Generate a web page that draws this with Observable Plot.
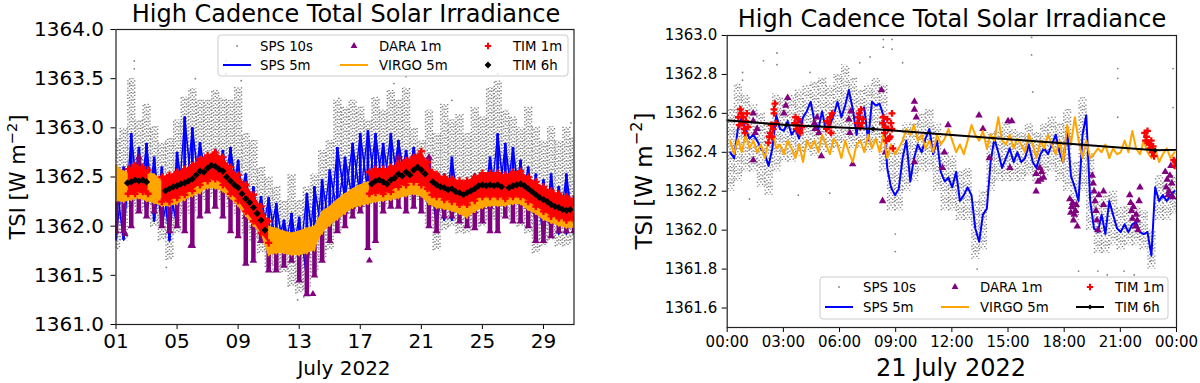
<!DOCTYPE html>
<html><head><meta charset="utf-8">
<script src="https://cdn.jsdelivr.net/npm/d3@7"></script>
<script src="https://cdn.jsdelivr.net/npm/@observablehq/plot@0.6"></script>
<style>
html,body{margin:0;padding:0;background:#fff;}
#wrap{position:relative;width:1200px;height:383px;overflow:hidden;font-family:"DejaVu Sans",sans-serif;}
#wrap svg{position:absolute;top:0;}
</style></head><body><div id="wrap"></div>
<script>
// ================= LEFT PANEL DATA (July 2022, day of month) =================
const monthDays = [1,1.5,2,2.5,3,3.5,4,4.5,5,5.5,6,6.5,7,7.5,8,8.5,9,9.5,10,10.5,11,11.5,12,12.5,13,13.5,14,14.5,15,15.5,16,16.5,17,17.5,18,18.5,19,19.5,20,20.5,21,21.5,22,22.5,23,23.5,24,24.5,25,25.5,26,26.5,27,27.5,28,28.5,29,29.5,30,30.5,31];
const sps10Lo = [1361.75,1361.85,1362.19,1362.12,1362.19,1361.99,1361.85,1361.65,1361.92,1362.12,
1362.12,1362.26,1362.26,1362.33,1362.26,1362.19,1362.12,1361.92,1361.85,1361.72,
1361.58,1361.52,1361.52,1361.38,1361.31,1361.35,1361.52,1361.65,1361.75,1361.92,
1362.09,1362.12,1362.19,1362.19,1362.26,1362.19,1362.26,1362.26,1362.33,1362.26,
1362.26,1362.02,1361.75,1361.95,1361.99,1361.92,1361.92,1361.99,1361.99,1362.06,
1362.06,1362.12,1362.06,1361.99,1361.92,1361.72,1361.79,1361.85,1361.79,1361.79,1361.85];
const sps10Hi = [1362.90,1363.00,1363.50,1363.08,1363.24,1363.01,1362.85,1362.89,1363.08,1363.31,
1363.40,1363.28,1363.28,1363.38,1363.30,1363.28,1363.41,1362.94,1362.87,1362.60,
1362.50,1362.40,1362.26,1362.53,1362.26,1362.40,1362.53,1362.77,1362.87,1363.28,
1363.21,1363.28,1363.21,1363.08,1363.31,1363.18,1363.38,1363.28,1363.41,1363.00,
1362.87,1363.18,1362.94,1363.24,1363.08,1363.14,1362.94,1363.21,1363.11,1363.41,
1363.48,1363.18,1363.11,1363.00,1363.21,1363.01,1362.87,1363.01,1362.87,1363.01,1362.90];
const sps10OutDays = [2.2,2.2,1.9,8.2,8.2,6.2,9.2,12.9,13.3,20.0,26.0,19.2,15.6,30.8,4.3,23.0];
const sps10OutVals = [1363.68,1363.60,1363.45,1363.68,1363.55,1363.50,1363.48,1361.25,1361.28,1363.52,1363.55,1363.45,1363.30,1363.05,1361.58,1363.28];
const sps5Lo = [1361.86,1361.86,1362.19,1362.15,1362.09,1362.05,1361.99,1361.85,1362.00,1362.19,
1362.30,1362.33,1362.40,1362.35,1362.33,1362.25,1362.26,1361.99,1361.92,1361.85,
1361.85,1361.79,1361.72,1361.68,1361.58,1361.45,1361.72,1361.92,1361.96,1362.13,
1362.26,1362.26,1362.29,1362.33,1362.36,1362.33,1362.33,1362.36,1362.40,1362.40,
1362.36,1362.13,1361.99,1362.06,1362.06,1362.09,1362.06,1362.13,1362.13,1362.16,
1362.13,1362.19,1362.19,1362.19,1362.06,1361.99,1361.85,1361.92,1361.92,1361.92,1361.92];
const sps5Hi = [1362.45,1362.60,1362.94,1362.80,1362.84,1362.70,1362.60,1362.40,1362.75,1363.11,
1363.00,1362.85,1362.70,1362.78,1362.77,1362.80,1362.67,1362.53,1362.40,1362.30,
1362.29,1362.23,1362.06,1362.13,1362.09,1362.33,1362.40,1362.47,1362.57,1362.80,
1362.70,1362.84,1362.94,1362.97,1362.94,1362.84,1362.94,1362.87,1362.77,1362.80,
1362.70,1362.60,1362.47,1362.53,1362.70,1362.40,1362.43,1362.53,1362.50,1362.70,
1362.94,1362.84,1362.80,1362.67,1362.60,1362.53,1362.47,1362.53,1362.40,1362.53,1362.30];
const virgoLo = [1362.25,1362.24,1362.26,1362.28,1362.25,1362.23,1362.20,1362.20,1362.22,1362.26,
1362.30,1362.33,1362.38,1362.38,1362.35,1362.28,1362.20,1362.10,1362.00,1361.92,
1361.70,1361.72,1361.72,1361.70,1361.70,1361.72,1361.75,1361.92,1362.00,1362.06,
1362.12,1362.18,1362.20,1362.22,1362.24,1362.25,1362.26,1362.28,1362.30,1362.32,
1362.30,1362.22,1362.18,1362.17,1362.15,1362.12,1362.08,1362.14,1362.18,1362.20,
1362.20,1362.20,1362.22,1362.22,1362.16,1362.12,1362.06,1362.03,1362.00,1361.98,1361.98];
const virgoHi = [1362.62,1362.56,1362.55,1362.55,1362.55,1362.53,1362.48,1362.45,1362.48,1362.52,
1362.55,1362.60,1362.62,1362.65,1362.60,1362.55,1362.45,1362.35,1362.25,1362.15,
1362.00,1361.98,1361.95,1361.93,1361.95,1361.98,1362.00,1362.15,1362.20,1362.27,
1362.33,1362.38,1362.42,1362.45,1362.46,1362.47,1362.50,1362.52,1362.55,1362.57,
1362.56,1362.48,1362.45,1362.42,1362.40,1362.38,1362.36,1362.40,1362.42,1362.44,
1362.44,1362.43,1362.45,1362.46,1362.42,1362.38,1362.32,1362.28,1362.25,1362.22,1362.20];
const daraLo = [1361.95,1361.95,1362.00,1362.15,1362.10,1362.15,1362.00,1361.95,1362.00,1361.95,
1361.80,1362.10,1362.15,1362.20,1362.10,1361.95,1361.90,1361.62,1361.65,1361.85,
1361.55,1361.55,1361.60,1361.65,1361.45,1361.31,1361.50,1361.65,1361.85,1361.95,
1362.00,1362.10,1362.15,1361.78,1361.85,1362.15,1362.20,1362.20,1362.15,1362.20,
1362.15,1362.00,1361.95,1362.10,1362.10,1362.05,1362.00,1361.98,1362.05,1361.95,
1361.95,1362.10,1362.05,1362.05,1362.00,1361.85,1361.85,1361.90,1361.95,1361.95,1361.95];
const daraHi = [1362.25,1362.30,1362.60,1362.70,1362.40,1362.30,1362.30,1362.25,1362.30,1362.30,
1362.35,1362.40,1362.50,1362.55,1362.45,1362.30,1362.25,1362.10,1362.00,1362.00,
1361.85,1361.80,1361.75,1361.80,1361.75,1361.80,1361.90,1362.05,1362.05,1362.10,
1362.15,1362.20,1362.22,1362.30,1362.35,1362.30,1362.40,1362.70,1362.40,1362.45,
1362.50,1362.70,1362.30,1362.30,1362.25,1362.20,1362.15,1362.15,1362.20,1362.20,
1362.25,1362.25,1362.25,1362.25,1362.20,1362.15,1362.10,1362.05,1362.10,1362.10,1362.05];
const daraOutDays = [1.6,17.6,13.9,5.9];
const daraOutVals = [1361.92,1361.65,1361.31,1361.80];
const tim1mDays = [1.8,2.25,2.75,3.1,3.5,4,4.5,5,5.5,6,6.5,7,7.5,8,8.5,9,9.5,10,10.5,11,14,17.6,18,18.5,19,19.5,20,20.5,21,21.4,21.7,22,22.5,23,23.5,24,24.5,25,25.5,26,26.5,27,27.5,28,28.5,29,29.5,30,30.5,31];
const tim1mLo = [1362.33,1362.33,1362.35,1362.33,null,1362.25,1362.25,1362.29,1362.32,1362.36,1362.42,1362.46,1362.48,1362.42,1362.33,1362.26,1362.15,1362.05,1361.93,1361.83,null,1362.33,1362.34,1362.33,1362.35,1362.40,1362.42,1362.45,1362.42,1362.38,1362.32,1362.30,1362.27,1362.25,1362.22,1362.22,1362.26,1362.30,1362.30,1362.30,1362.28,1362.30,1362.30,1362.25,1362.20,1362.15,1362.10,1362.08,1362.06,1362.06];
const tim1mHi = [1362.58,1362.62,1362.60,1362.57,null,1362.50,1362.52,1362.55,1362.58,1362.62,1362.68,1362.72,1362.75,1362.70,1362.60,1362.52,1362.42,1362.32,1362.20,1362.05,null,1362.55,1362.58,1362.58,1362.60,1362.64,1362.67,1362.70,1362.76,1362.65,1362.55,1362.53,1362.50,1362.48,1362.46,1362.46,1362.50,1362.54,1362.54,1362.54,1362.52,1362.55,1362.56,1362.50,1362.45,1362.40,1362.36,1362.33,1362.30,1362.28];
const tim6hDays = [1.75,2,2.25,2.5,2.75,3,4.25,4.5,4.75,5,5.25,5.5,5.75,6,6.25,6.5,6.75,7,7.25,7.5,7.75,8,8.25,8.5,8.75,9,9.25,9.5,9.75,10,10.25,10.5,10.75,17.75,18,18.25,18.5,18.75,19,19.25,19.5,19.75,20,20.25,20.5,20.75,21,21.25,21.75,22,22.25,22.5,22.75,23,23.25,23.5,23.75,24,24.25,24.5,24.75,25,25.25,25.5,25.75,26,26.25,26.75,27,27.25,27.5,27.75,28,28.25,28.5,28.75,29,29.25,29.5,29.75,30,30.25,30.5,30.75];
const tim6hVals = [1362.44,1362.45,1362.47,1362.46,1362.47,1362.45,1362.36,1362.38,1362.40,1362.41,1362.43,1362.44,1362.46,1362.48,1362.52,1362.56,1362.55,1362.59,1362.62,1362.61,1362.58,1362.56,1362.50,1362.46,1362.42,1362.39,1362.33,1362.28,1362.24,1362.19,1362.13,1362.06,1361.96,1362.43,1362.46,1362.47,1362.45,1362.43,1362.47,1362.49,1362.53,1362.51,1362.55,1362.52,1362.57,1362.60,1362.57,1362.53,1362.45,1362.42,1362.40,1362.39,1362.37,1362.38,1362.35,1362.34,1362.32,1362.34,1362.36,1362.38,1362.41,1362.42,1362.41,1362.42,1362.41,1362.42,1362.40,1362.39,1362.41,1362.42,1362.43,1362.41,1362.38,1362.35,1362.32,1362.29,1362.27,1362.25,1362.22,1362.20,1362.19,1362.17,1362.16,1362.17];
const leftXTicks = [1,5,9,13,17,21,25,29];
const leftYTicks = [1361.0,1361.5,1362.0,1362.5,1363.0,1363.5,1364.0];

// ================= RIGHT PANEL DATA (21 July 2022, hours) =================
const hours5m = [0.16,0.37,0.57,0.78,0.98,1.19,1.39,1.60,1.80,2.01,2.21,2.41,2.62,2.82,3.03,3.23,3.44,3.64,3.84,4.05,4.25,4.46,4.66,4.87,5.07,5.28,5.48,5.69,5.89,6.10,6.30,6.50,6.71,6.91,7.12,7.32,7.53,7.73,7.94,8.14,8.34,8.55,8.75,8.96,9.16,9.37,9.57,9.78,9.98,10.18,10.39,10.59,10.80,11.00,11.21,11.41,11.62,11.82,12.02,12.23,12.43,12.64,12.84,13.05,13.25,13.46,13.66,13.87,14.07,14.27,14.48,14.68,14.89,15.09,15.30,15.50,15.71,15.91,16.11,16.32,16.52,16.73,16.93,17.14,17.34,17.55,17.75,17.95,18.16,18.36,18.57,18.77,18.98,19.18,19.39,19.59,19.80,20.00,20.20,20.41,20.61,20.82,21.02,21.23,21.43,21.64,21.84,22.05,22.25,22.45,22.66,22.86,23.07,23.27,23.48,23.68,23.89];
const sps5Day = [1362.40,1362.37,1362.52,1362.58,1362.52,1362.47,1362.49,1362.46,1362.42,1362.39,
1362.33,1362.42,1362.59,1362.52,1362.51,1362.56,1362.49,1362.52,1362.47,1362.58,
1362.61,1362.66,1362.56,1362.52,1362.61,1362.51,1362.54,1362.59,1362.66,1362.58,
1362.64,1362.72,1362.62,1362.49,1362.61,1362.63,1362.46,1362.66,1362.64,1362.65,
1362.59,1362.32,1362.22,1362.18,1362.21,1362.37,1362.46,1362.25,1362.37,1362.44,
1362.40,1362.47,1362.52,1362.39,1362.46,1362.30,1362.25,1362.27,1362.22,1362.30,
1362.15,1362.18,1362.22,1362.18,1362.01,1361.94,1362.08,1362.11,1362.35,1362.47,
1362.40,1362.32,1362.37,1362.42,1362.35,1362.40,1362.35,1362.37,1362.44,1362.35,
1362.32,1362.39,1362.42,1362.39,1362.44,1362.49,1362.40,1362.35,1362.52,1362.28,
1362.22,1362.15,1362.49,1362.59,1362.15,1362.01,1361.99,1362.08,1361.98,1362.15,
1362.08,1362.01,1361.99,1362.03,1361.99,1362.03,1362.04,1361.99,1361.98,1361.99,
1361.87,1362.22,1362.15,1362.18,1362.15,1362.18,1362.20];
const virgoDay = [1362.46,1362.39,1362.47,1362.40,1362.49,1362.42,1362.46,1362.40,1362.44,1362.37,
1362.46,1362.51,1362.42,1362.44,1362.39,1362.46,1362.42,1362.37,1362.44,1362.35,
1362.46,1362.42,1362.46,1362.40,1362.49,1362.44,1362.39,1362.47,1362.44,1362.37,
1362.46,1362.40,1362.35,1362.44,1362.46,1362.40,1362.49,1362.42,1362.47,1362.40,
1362.49,1362.37,1362.44,1362.39,1362.42,1362.46,1362.52,1362.49,1362.54,1362.46,
1362.49,1362.42,1362.46,1362.40,1362.49,1362.44,1362.47,1362.52,1362.46,1362.40,
1362.44,1362.39,1362.46,1362.54,1362.49,1362.46,1362.51,1362.42,1362.49,1362.46,
1362.58,1362.46,1362.44,1362.49,1362.42,1362.47,1362.44,1362.40,1362.49,1362.44,
1362.37,1362.46,1362.42,1362.49,1362.44,1362.39,1362.46,1362.35,1362.54,1362.44,
1362.58,1362.46,1362.37,1362.46,1362.37,1362.39,1362.42,1362.40,1362.44,1362.37,
1362.42,1362.39,1362.40,1362.46,1362.40,1362.51,1362.42,1362.39,1362.46,1362.40,
1362.37,1362.42,1362.35,1362.39,1362.42,1362.37,1362.40];
const sps10Hours = [0.16,0.57,0.98,1.39,1.80,2.21,2.62,3.03,3.44,3.84,4.25,4.66,5.07,5.48,5.89,6.30,6.71,7.12,7.53,7.94,8.34,8.75,9.16,9.57,9.98,10.39,10.80,11.21,11.62,12.02,12.43,12.84,13.25,13.66,14.07,14.48,14.89,15.30,15.71,16.11,16.52,16.93,17.34,17.75,18.16,18.57,18.98,19.39,19.80,20.20,20.61,21.02,21.43,21.84,22.25,22.66,23.07,23.48,23.89];
const sps10DayLo = [1362.20,1362.25,1362.30,1362.30,1362.22,1362.18,1362.30,1362.35,1362.35,1362.38,
1362.40,1362.38,1362.40,1362.40,1362.42,1362.45,1362.42,1362.42,1362.40,1362.45,
1362.30,1362.10,1362.10,1362.20,1362.25,1362.30,1362.30,1362.20,1362.10,1362.10,
1362.05,1362.05,1361.85,1361.90,1362.20,1362.25,1362.25,1362.25,1362.25,1362.28,
1362.25,1362.28,1362.30,1362.25,1362.20,1362.05,1362.20,1362.00,1361.88,1361.88,
1361.92,1361.90,1361.92,1361.92,1361.90,1361.80,1362.05,1362.05,1362.08];
const sps10DayHi = [1362.62,1362.75,1362.70,1362.65,1362.60,1362.55,1362.70,1362.68,1362.70,1362.72,
1362.75,1362.76,1362.78,1362.74,1362.80,1362.85,1362.78,1362.72,1362.75,1362.78,
1362.75,1362.45,1362.42,1362.55,1362.55,1362.60,1362.62,1362.55,1362.40,1362.38,
1362.30,1362.32,1362.15,1362.20,1362.50,1362.52,1362.55,1362.52,1362.50,1362.55,
1362.50,1362.55,1362.58,1362.55,1362.62,1362.35,1362.68,1362.40,1362.15,1362.18,
1362.20,1362.12,1362.12,1362.12,1362.10,1362.00,1362.28,1362.25,1362.28];
const sps10OutHours = [0.82,0.82,1.94,2.66,2.66,4.42,7.08,7.63,8.34,8.34,8.81,8.81,9.37,8.98,8.98,16.26,16.26,16.32,20.86,20.86,20.86,23.82,23.82,13.35,19.8,20.3,21.2,21.74,22.6,18.77,5.48,1.19,3.8];
const sps10OutDayVals = [1362.81,1362.77,1362.87,1362.91,1362.85,1362.81,1362.86,1362.89,1362.98,1362.94,1362.98,1362.93,1362.86,1361.89,1361.98,1362.99,1362.90,1362.71,1362.83,1362.78,1362.58,1362.83,1362.63,1361.80,1361.79,1361.77,1361.79,1361.77,1361.84,1361.79,1362.19,1362.16,1362.18];
const daraHours = [1.39,1.39,1.6,1.39,3.23,3.13,3.03,3.84,4.66,4.9,4.8,5.03,6.6,6.5,6.7,8.24,8.3,8.45,10.0,10.0,10.1,10.0,11.8,11.6,11.5,13.45,13.66,14.0,15.0,15.2,15.1,16.5,16.6,16.8,16.9,16.5,18.3,18.4,18.5,18.6,18.7,19.5,19.6,19.7,19.8,19.85,20.1,20.1,21.5,21.6,21.8,21.9,22.0,22.05,23.4,23.5,23.6,23.8,23.7,
  1.5,4.7,6.55,16.7,16.75,18.35,18.45,18.55,18.65,19.55,19.65,19.75,21.55,21.65,21.7,21.85,21.95,23.45,23.55,23.65,23.75];
const daraVals = [1362.60,1362.56,1362.52,1362.36,1362.68,1362.64,1362.60,1362.56,1362.55,1362.50,1362.58,1362.38,1362.61,1362.57,1362.34,1362.72,1362.15,1362.40,1362.66,1362.62,1362.58,1362.35,1362.54,1362.40,1362.32,1362.59,1362.52,1362.37,1362.56,1362.56,1362.32,1362.29,1362.25,1362.30,1362.27,1362.20,1362.16,1362.12,1362.05,1362.10,1362.02,1362.28,1362.20,1362.10,1362.00,1362.18,1362.20,1362.13,1362.18,1362.10,1362.02,1362.05,1362.15,1362.22,1362.30,1362.26,1362.20,1362.17,1362.33,
  1362.50,1362.52,1362.50,1362.32,1362.26,1362.09,1362.14,1362.08,1362.13,1362.24,1362.15,1362.05,1362.14,1362.06,1362.12,1362.08,1362.00,1362.22,1362.18,1362.28,1362.24];
const tim1mHours = [0.6,0.7,0.8,0.9,1.0,1.1,2.2,2.3,2.4,2.5,2.55,2.6,3.6,3.7,3.8,3.9,4.0,5.3,5.4,5.5,5.6,6.95,7.05,7.15,7.25,8.3,8.4,8.5,8.6,8.7,8.8,8.85,22.3,22.4,22.5,22.6,22.7,22.8,23.85,23.95,
  0.65,0.75,0.85,0.95,1.05,2.25,2.35,2.45,2.5,3.65,3.75,3.85,5.35,5.45,5.55,7.0,7.1,7.2,8.35,8.45,8.55,8.65,8.75,8.8,22.35,22.45,22.55,22.65,22.75,23.9];
const tim1mVals = [1362.58,1362.62,1362.55,1362.52,1362.56,1362.53,1362.45,1362.50,1362.48,1362.60,1362.65,1362.55,1362.55,1362.52,1362.57,1362.50,1362.53,1362.52,1362.55,1362.58,1362.60,1362.55,1362.60,1362.62,1362.57,1362.55,1362.50,1362.46,1362.52,1362.48,1362.60,1362.42,1362.50,1362.48,1362.45,1362.42,1362.40,1362.38,1362.36,1362.35,
  1362.54,1362.60,1362.58,1362.50,1362.60,1362.48,1362.54,1362.52,1362.62,1362.58,1362.54,1362.51,1362.56,1362.53,1362.50,1362.58,1362.53,1362.55,1362.58,1362.53,1362.57,1362.47,1362.55,1362.52,1362.46,1362.51,1362.44,1362.46,1362.43,1362.33];
const tim6hHours = [-2.8,3.17,7.8,22.86,28.9];
const tim6hDayVals = [1362.585,1362.54,1362.52,1362.41,1362.425];
const rightXTicks = [0,3,6,9,12,15,18,21,24];
const rightYTicks = [1361.6,1361.8,1362.0,1362.2,1362.4,1362.6,1362.8,1363.0];

// ================= COLOURS =================
const C = {gray:"#808080", blue:"#0000ff", purple:"#800080", orange:"#ffa500", red:"#ff0000", black:"#000000"};

const wrap = document.getElementById("wrap");

// ---------- LEFT ----------
const L = monthDays.map((d,i)=>({d, gLo:sps10Lo[i], gHi:sps10Hi[i], bLo:sps5Lo[i], bHi:sps5Hi[i], oLo:virgoLo[i], oHi:virgoHi[i], pLo:daraLo[i], pHi:daraHi[i]}));
const zig = (lo, hi) => L.flatMap(r => [{d:r.d, v:r[lo]}, {d:r.d, v:r[hi]}]);
const gOut = sps10OutDays.map((d,i)=>({d, v:sps10OutVals[i]}));
const pOut = daraOutDays.map((d,i)=>({d, v:daraOutVals[i]}));
const T1 = tim1mDays.map((d,i)=>({d, lo:tim1mLo[i], hi:tim1mHi[i]}));
const T1pts = T1.filter(r=>r.lo!=null).flatMap(r=>[{d:r.d,v:r.lo},{d:r.d,v:r.hi}]);
const T6 = tim6hDays.map((d,i)=>({d, v:tim6hVals[i]}));

const grayRules = (data, xk, loK, hiK, offs, dash, w) => offs.map((dx,k) => Plot.ruleX(data, {x:xk, y1:loK, y2:hiK, stroke:C.gray, strokeWidth:w, strokeDasharray:dash, strokeDashoffset:(k*2.3)%5, dx, clip:true}));

const left = Plot.plot({
  width:600, height:383,
  marginLeft:115.5, marginRight:26.5, marginTop:29, marginBottom:59,
  style:{fontFamily:"DejaVu Sans", fontSize:"20px", color:"#000", background:"transparent", overflow:"visible"},
  x:{domain:[1,31], ticks:leftXTicks, tickFormat:d=>String(d).padStart(2,"0"), label:null, tickSize:5, tickPadding:4},
  y:{domain:[1361,1364], ticks:leftYTicks, tickFormat:d3.format(".1f"), label:null, tickSize:5, tickPadding:7},
  marks:[
    ...grayRules(L, "d", "gLo", "gHi", [-3.4,-1.7,0,1.7,3.4], "1.3,1.8,1.3,2.8", 1.45),
    Plot.dot(gOut, {x:"d", y:"v", r:0.9, fill:C.gray, clip:true}),
    Plot.line(zig("bLo","bHi"), {x:"d", y:"v", stroke:C.blue, strokeWidth:1.7, clip:true}),
    Plot.line(zig("bHi","bLo"), {x:"d", y:"v", stroke:C.blue, strokeWidth:1.4, clip:true}),
    Plot.ruleX(L, {x:"d", y1:"bLo", y2:"bHi", stroke:C.blue, strokeWidth:2.8, clip:true}),
    Plot.ruleX(L, {x:"d", y1:"pLo", y2:"pHi", stroke:C.purple, strokeWidth:4.5, clip:true}),
    Plot.dot(L, {x:"d", y:"pLo", symbol:"triangle", r:2.8, fill:C.purple, clip:true}),
    Plot.dot(L, {x:"d", y:"pHi", symbol:"triangle", r:2.8, fill:C.purple, clip:true}),
    Plot.dot(pOut, {x:"d", y:"v", symbol:"triangle", r:2.6, fill:C.purple, clip:true}),
    Plot.areaY(L, {x:"d", y1:"oLo", y2:"oHi", fill:C.orange, clip:true}),
    Plot.line(zig("oLo","oHi"), {x:"d", y:"v", stroke:C.orange, strokeWidth:1.4, clip:true}),
    Plot.line(zig("oHi","oLo"), {x:"d", y:"v", stroke:C.orange, strokeWidth:1.2, clip:true}),
    Plot.areaY(T1, {x:"d", y1:"lo", y2:"hi", fill:C.red, clip:true}),
    Plot.dot(T1pts, {x:"d", y:"v", symbol:"cross", r:3, fill:C.red, clip:true}),
    Plot.dot(T6, {x:"d", y:"v", symbol:"diamond2", r:3.2, fill:C.black, clip:true}),
    Plot.frame({stroke:"#222", strokeWidth:1.2})
  ]
});
left.style.left = "0px";
wrap.appendChild(left);

// ---------- RIGHT ----------
const R = hours5m.map((h,i)=>({h, b:sps5Day[i], o:virgoDay[i]}));
const G = sps10Hours.map((h,i)=>({h, lo:sps10DayLo[i], hi:sps10DayHi[i]}));
const GO = sps10OutHours.map((h,i)=>({h, v:sps10OutDayVals[i]}));
const D = daraHours.map((h,i)=>({h, v:daraVals[i]}));
const TR = tim1mHours.map((h,i)=>({h, v:tim1mVals[i]}));
const T6R = tim6hHours.map((h,i)=>({h, v:tim6hDayVals[i]}));

const right = Plot.plot({
  width:600, height:383,
  marginLeft:126.7, marginRight:24, marginTop:35, marginBottom:56,
  style:{fontFamily:"DejaVu Sans", fontSize:"15px", color:"#000", background:"transparent", overflow:"visible"},
  x:{domain:[0,24], ticks:rightXTicks, tickFormat:d=>String(d%24).padStart(2,"0")+":00", label:null, tickSize:5, tickPadding:4},
  y:{domain:[1361.5,1363.0], ticks:rightYTicks, tickFormat:d3.format(".1f"), label:null, tickSize:5, tickPadding:5},
  marks:[
    ...grayRules(G, "h", "lo", "hi", [-3.4,-1.7,0,1.7,3.4], "1.2,2.6,1.2,4.0,1.2,2.0", 1.45),
    Plot.dot(GO, {x:"h", y:"v", r:0.9, fill:C.gray, clip:true}),
    Plot.line(R, {x:"h", y:"b", stroke:C.blue, strokeWidth:2, clip:true}),
    Plot.dot(D, {x:"h", y:"v", symbol:"triangle", r:2.8, fill:C.purple, clip:true}),
    Plot.line(R, {x:"h", y:"o", stroke:C.orange, strokeWidth:2, clip:true}),
    Plot.dot(TR, {x:"h", y:"v", symbol:"cross", r:2.9, fill:C.red, clip:true}),
    Plot.line(T6R, {x:"h", y:"v", stroke:C.black, strokeWidth:2, clip:true}),
    Plot.dot(T6R, {x:"h", y:"v", symbol:"diamond2", r:2.4, fill:C.black, clip:true}),
    Plot.frame({stroke:"#222", strokeWidth:1.2})
  ]
});
right.style.left = "600px";
wrap.appendChild(right);

// ---------- OVERLAY: titles, axis labels, legends ----------
const ov = d3.select(wrap).append("svg").attr("width",1200).attr("height",383)
  .style("left","0px").style("pointer-events","none")
  .attr("font-family","DejaVu Sans, sans-serif").attr("fill","#000");

const title = "High Cadence Total Solar Irradiance";
ov.append("text").attr("x",346).attr("y",22).attr("text-anchor","middle").attr("font-size",24).text(title);
ov.append("text").attr("x",952).attr("y",27).attr("text-anchor","middle").attr("font-size",24).text(title);
ov.append("text").attr("x",344).attr("y",375).attr("text-anchor","middle").attr("font-size",20).text("July 2022");
ov.append("text").attr("x",951).attr("y",376).attr("text-anchor","middle").attr("font-size",24).text("21 July 2022");

function ylab(x, y, fs){
  const t = ov.append("text").attr("transform",`translate(${x},${y}) rotate(-90)`).attr("text-anchor","middle").attr("dominant-baseline","central").attr("font-size",fs);
  t.append("tspan").text("TSI [W m");
  t.append("tspan").attr("dy",-fs*0.33).attr("font-size",fs*0.7).text("\u22122");
  t.append("tspan").attr("dy",fs*0.33).text("]");
}
ylab(18, 177, 21);
ylab(644, 181, 23);

const sym = (type, size) => d3.symbol().type(type).size(size)();
function legend(box, rows, cols, sixth){
  const g = ov.append("g");
  g.append("rect").attr("x",box[0]).attr("y",box[1]).attr("width",box[2]).attr("height",box[3]).attr("rx",3)
    .attr("fill","#fff").attr("fill-opacity",0.8).attr("stroke","#cccccc").attr("stroke-width",1);
  const items = [
    {c:0,r:0,label:"SPS 10s", draw:(x,y)=>g.append("circle").attr("cx",x).attr("cy",y).attr("r",0.9).attr("fill",C.gray)},
    {c:0,r:1,label:"SPS 5m", draw:(x,y)=>g.append("line").attr("x1",x-14).attr("x2",x+14).attr("y1",y).attr("y2",y).attr("stroke",C.blue).attr("stroke-width",2)},
    {c:1,r:0,label:"DARA 1m", draw:(x,y)=>g.append("path").attr("d",sym(d3.symbolTriangle,20)).attr("transform",`translate(${x},${y})`).attr("fill",C.purple)},
    {c:1,r:1,label:"VIRGO 5m", draw:(x,y)=>g.append("line").attr("x1",x-14).attr("x2",x+14).attr("y1",y).attr("y2",y).attr("stroke",C.orange).attr("stroke-width",2)},
    {c:2,r:0,label:"TIM 1m", draw:(x,y)=>g.append("path").attr("d",sym(d3.symbolCross,22)).attr("transform",`translate(${x},${y})`).attr("fill",C.red)},
    {c:2,r:1,label:"TIM 6h", draw:sixth(g)}
  ];
  items.forEach(it=>{
    const x = cols[it.c][0], tx = cols[it.c][1], y = rows[it.r];
    it.draw(x,y);
    g.append("text").attr("x",tx).attr("y",y+4.9).attr("font-size",13.3).text(it.label);
  });
}
legend([218,35,350,41],[46,65],[[237,260],[354,379],[488,513]],
  g=>(x,y)=>g.append("path").attr("d",sym(d3.symbolDiamond2,30)).attr("transform",`translate(${x},${y})`).attr("fill","#000"));
legend([820,277,348,42],[287,307],[[839,863],[955,980],[1090,1115]],
  g=>(x,y)=>{g.append("line").attr("x1",x-14).attr("x2",x+14).attr("y1",y).attr("y2",y).attr("stroke","#000").attr("stroke-width",2);
             g.append("path").attr("d",sym(d3.symbolDiamond2,16)).attr("transform",`translate(${x},${y})`).attr("fill","#000");});
</script>
</body></html>
